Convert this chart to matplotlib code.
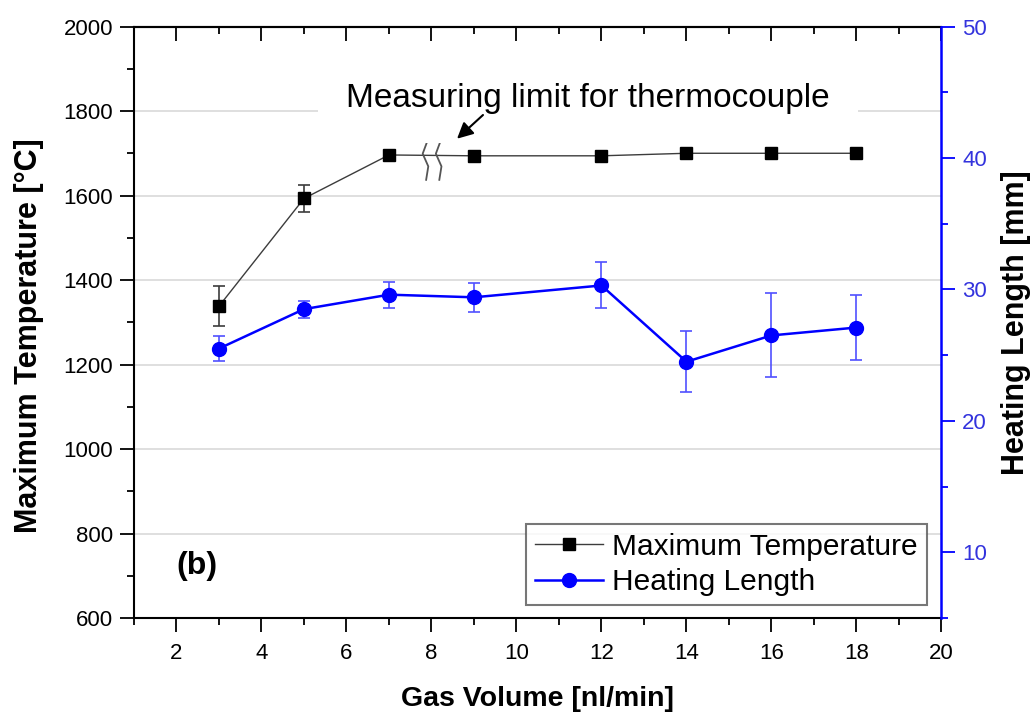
import matplotlib
matplotlib.use('Agg')
import matplotlib.pyplot as plt
from matplotlib.lines import Line2D
from matplotlib.ticker import MultipleLocator

plt.rcParams['font.family'] = ['Liberation Sans', 'DejaVu Sans']

# ---- data ----
gas_volume = [3, 5, 7, 9, 12, 14, 16, 18]
max_temp = [1338, 1593, 1696, 1694, 1694, 1700, 1700, 1700]
max_temp_err = [47, 33, 0, 0, 0, 0, 0, 0]
heating_length = [25.5, 28.5, 29.6, 29.4, 30.3, 24.5, 26.5, 27.1]
heating_length_err = [0.95, 0.65, 1.0, 1.1, 1.75, 2.3, 3.2, 2.5]

x_ticks = list(range(2, 21, 2))
temp_ticks = list(range(600, 2001, 200))
length_ticks = [10, 20, 30, 40, 50]

annotation_text = 'Measuring limit for thermocouple'
panel_label = '(b)'
break_x = 7.793      # position of the axis-break symbol on the temperature line
break_y = 1699

fig = plt.figure(figsize=(10.33, 7.13), dpi=100)
ax = fig.add_axes([0.1297, 0.1332, 0.9114 - 0.1297, 0.9628 - 0.1332])
ax2 = ax.twinx()

grey = '#3c3c3c'
blue = '#0000ff'

# temperature series
ax.plot(gas_volume, max_temp, color=grey, lw=1.0, marker='s', ms=9,
        mfc='black', mec='black', zorder=3)
ex = [g for g, e in zip(gas_volume, max_temp_err) if e > 0]
ey = [t for t, e in zip(max_temp, max_temp_err) if e > 0]
ee = [e for e in max_temp_err if e > 0]
ax.errorbar(ex, ey, yerr=ee, fmt='none', ecolor=grey, elinewidth=1.2,
            capsize=4.3, capthick=1.2, zorder=2)

# heating length series
ax2.errorbar(gas_volume, heating_length, yerr=heating_length_err, fmt='none',
             ecolor='#5050ff', elinewidth=1.2, capsize=4.3, capthick=1.2, zorder=2)
ax2.plot(gas_volume, heating_length, color=blue, lw=1.8, marker='o', ms=10,
         mfc=blue, mec=blue, zorder=3)

# axis break symbol (two zig-zag strokes)
zig_dx = [0.155, 0.0, 0.132, 0.078]
zig_dy = [42, 0, -30, -64]
for off in (0.0, 0.31):
    ax.plot([break_x + off + d for d in zig_dx], [break_y + d for d in zig_dy],
            color='#555555', lw=1.3, zorder=4, solid_capstyle='butt')

# limits & ticks
ax.set_xlim(1, 20)
ax.set_ylim(600, 2000)
ax2.set_ylim(5, 50)
ax.set_xticks(x_ticks)
ax.xaxis.set_minor_locator(MultipleLocator(1))
ax.set_yticks(temp_ticks)
ax.yaxis.set_minor_locator(MultipleLocator(100))
ax2.set_yticks(length_ticks)
ax2.yaxis.set_minor_locator(MultipleLocator(5))

ax.tick_params(axis='both', which='major', direction='out', length=10, width=1.3,
               labelsize=16)
ax.tick_params(axis='x', which='major', pad=8)
ax.tick_params(axis='y', which='major', pad=5)
ax.tick_params(axis='both', which='minor', direction='out', length=5, width=1.3)
ax.tick_params(axis='y', right=False)
ax.tick_params(axis='x', top=False)
ax2.tick_params(axis='y', which='major', direction='out', length=10, width=1.3,
                labelsize=16, colors=blue, labelcolor='#3333dd', pad=5)
ax2.tick_params(axis='y', which='minor', direction='out', length=5, width=1.3,
                colors=blue)

secx = ax.secondary_xaxis('top')
secx.set_xticks(x_ticks)
secx.xaxis.set_minor_locator(MultipleLocator(1))
secx.tick_params(which='major', direction='in', length=10, width=1.3, labeltop=False)
secx.tick_params(which='minor', direction='in', length=5, width=1.3)
secx.spines['top'].set_linewidth(1.5)

for s in ['left', 'bottom', 'top']:
    ax.spines[s].set_linewidth(1.5)
    ax.spines[s].set_color('black')
ax.spines['right'].set_visible(False)
for s in ['left', 'bottom', 'top']:
    ax2.spines[s].set_visible(False)
ax2.spines['right'].set_color(blue)
ax2.spines['right'].set_linewidth(1.8)

ax.yaxis.grid(True, color='#dcdcdc', lw=1.3)
ax.set_axisbelow(True)

ax.set_xlabel('Gas Volume [nl/min]', fontsize=20.5, fontweight='bold', labelpad=16)
ax.set_ylabel('Maximum Temperature [°C]', fontsize=22, fontweight='bold')
ax.yaxis.set_label_coords(-0.112, 0.478)
ax2.set_ylabel('Heating Length [mm]', fontsize=22, fontweight='bold')
ax2.yaxis.set_label_coords(1.074, 0.5)

# annotation with white box
ax.text(11.68, 1809, annotation_text, fontsize=24, ha='center', va='baseline',
        zorder=5, bbox=dict(boxstyle='square,pad=0.85', fc='white', ec='none'))
ax.annotate('', xy=(8.553, 1730), xytext=(9.26, 1795),
            arrowprops=dict(arrowstyle='-|>', color='black', lw=1.5,
                            mutation_scale=24), zorder=6)

ax.text(2.48, 723, panel_label, fontsize=23, fontweight='bold', ha='center', va='center')

# legend
h1 = Line2D([], [], color=grey, lw=1.0, marker='s', ms=9, mfc='black', mec='black')
h2 = Line2D([], [], color=blue, lw=1.8, marker='o', ms=10, mfc=blue, mec=blue)
leg = ax2.legend([h1, h2], ['Maximum Temperature', 'Heating Length'],
                 loc='lower right', bbox_to_anchor=(0.982, 0.022),
                 borderaxespad=0, fontsize=21.5, frameon=True, fancybox=False,
                 handlelength=2.25, handletextpad=0.33, labelspacing=0.25,
                 borderpad=0.3)
leg.get_frame().set_edgecolor('#555555')
leg.get_frame().set_linewidth(1.5)

fig.savefig('out.png', dpi=100)
